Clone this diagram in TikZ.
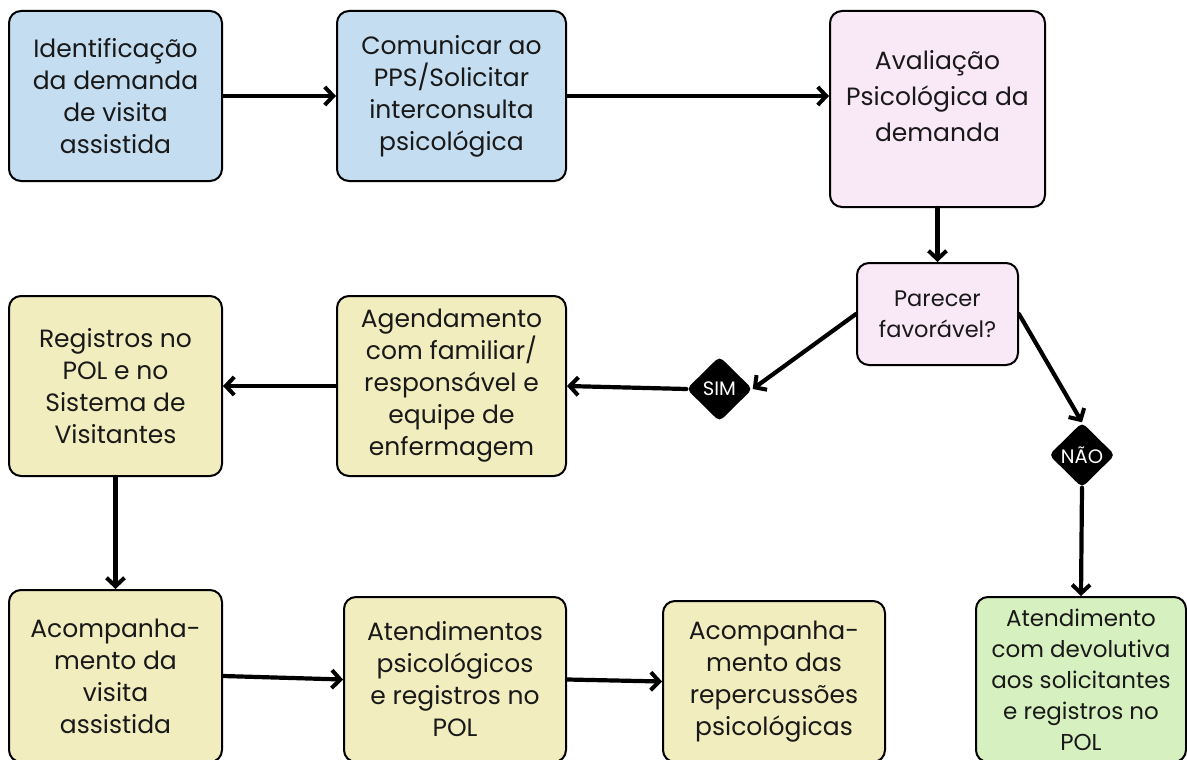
\documentclass[tikz,border=0pt]{standalone}
\usepackage{fontspec}
\setmainfont{Poppins}
\usetikzlibrary{arrows.meta,shapes.geometric}
\definecolor{cblue}{RGB}{196,221,241}
\definecolor{cpink}{RGB}{249,232,246}
\definecolor{cyellow}{RGB}{241,237,190}
\definecolor{cgreen}{RGB}{215,240,192}
\definecolor{ctext}{RGB}{25,25,25}
\tikzset{
  box/.style={draw=black,line width=2pt,rounded corners=12pt,inner sep=0pt,
    align=center,text=ctext,font=\fontsize{25}{32}\selectfont},
  dia/.style={diamond,fill=black,rounded corners=5pt,inner sep=0pt,
    minimum width=66pt,minimum height=65pt,text=white,font=\fontsize{19.5}{21}\selectfont},
  conn/.style={line width=4.2pt,line cap=round,-{Straight Barb[length=8.5pt,width=18pt,line width=4pt]}},
}
\begin{document}
\begin{tikzpicture}[x=1pt,y=-1pt]
\useasboundingbox[fill=white] (0,0) rectangle (1187,760);
% row 1
\node[box,fill=cblue,minimum width=213pt,minimum height=170pt] (b1) at (115.5,96)
  {Identificação\\da demanda\\de visita\\assistida};
\node[box,fill=cblue,minimum width=229pt,minimum height=170pt] (b2) at (451.5,96)
  {Comunicar ao\\PPS/Solicitar\\interconsulta\\psicológica};
\node[box,fill=cpink,minimum width=215pt,minimum height=196pt] (b3) at (937.5,109) {};
\node[align=center,text=ctext,font=\fontsize{25}{36}\selectfont] (b3t) at (937.5,96)
  {Avaliação\\Psicológica da\\demanda};
\node[box,fill=cpink,minimum width=161pt,minimum height=102pt,font=\fontsize{22.5}{31}\selectfont] (par) at (937.5,314)
  {Parecer\\favorável?};
% decisions
\node[dia] (sim) at (719.5,389) {SIM};
\node[dia] (nao) at (1082,455) {NÃO};
% row 2
\node[box,fill=cyellow,minimum width=213pt,minimum height=180pt] (reg) at (115.5,386)
  {Registros no\\POL e no\\Sistema de\\Visitantes};
\node[box,fill=cyellow,minimum width=229pt,minimum height=180pt] (ag) at (451.5,386)
  {Agendamento\\com familiar/\\responsável e\\equipe de\\enfermagem};
% row 3
\node[box,fill=cyellow,minimum width=213pt,minimum height=172pt] (acp) at (115.5,676)
  {Acompanha-\\mento da\\visita\\assistida};
\node[box,fill=cyellow,minimum width=222pt,minimum height=165pt] (at) at (455,679.5)
  {Atendimentos\\psicológicos\\e registros no\\POL};
\node[box,fill=cyellow,minimum width=222pt,minimum height=161pt] (acd) at (774,681.5)
  {Acompanha-\\mento das\\repercussões\\psicológicas};
\node[box,fill=cgreen,minimum width=210pt,minimum height=165pt,font=\fontsize{23}{31}\selectfont] (gr) at (1081,679.5)
  {Atendimento\\com devolutiva\\aos solicitantes\\e registros no\\POL};
% connectors
\draw[conn] (b1.east) -- (b2.west);
\draw[conn] (b2.east) -- (b2.east -| b3.west);
\draw[conn] (b3.south) -- (par.north);
\draw[conn] (par.west) -- (sim.east);
\draw[conn] (sim.west) -- (ag.east);
\draw[conn] (ag.west) -- (reg.east);
\draw[conn] (par.east) -- (nao.north);
\draw[conn] (nao.south) -- (gr.north);
\draw[conn] (reg.south) -- (acp.north);
\draw[conn] (acp.east) -- (at.west);
\draw[conn] (at.east) -- (acd.west);
\end{tikzpicture}
\end{document}
